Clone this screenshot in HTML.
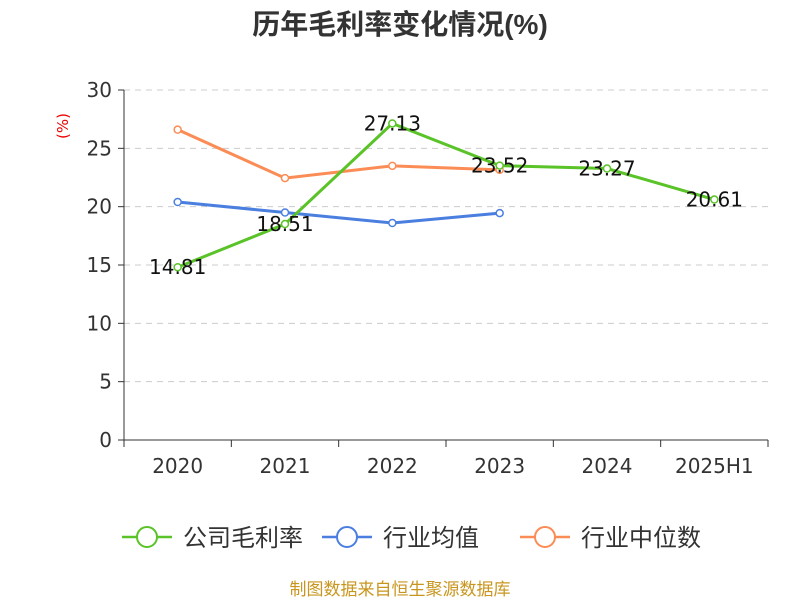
<!DOCTYPE html>
<html><head><meta charset="utf-8"><style>
body{margin:0;background:#fff;font-family:"DejaVu Sans","Noto Sans CJK SC",sans-serif;}
</style></head><body>
<svg id="c" width="800" height="600" xmlns="http://www.w3.org/2000/svg" font-family="DejaVu Sans, Noto Sans CJK SC, sans-serif">
<text x="400" y="34" text-anchor="middle" font-size="28" font-weight="bold" fill="#333" font-family="Liberation Sans, Noto Sans CJK SC, sans-serif">历年毛利率变化情况(%)</text>
<text x="68" y="126" text-anchor="middle" font-size="15" fill="#e00" transform="rotate(-90 68 126)">(%)</text>
<g id="grid"></g><g id="axes"></g><g id="series"></g><g id="legend"></g>
<text x="400" y="595" text-anchor="middle" font-size="17" fill="#c8961e" font-family="Liberation Sans, Noto Sans CJK SC, sans-serif">制图数据来自恒生聚源数据库</text>
</svg>
<script>
const categories=["2020","2021","2022","2023","2024","2025H1"];
const company=[14.81,18.51,27.13,23.52,23.27,20.61];
const industryAvg=[20.4,19.5,18.6,19.45,null,null];
const industryMedian=[26.6,22.45,23.5,23.15,null,null];
const yTicks=[0,5,10,15,20,25,30];
const NS="http://www.w3.org/2000/svg";
const x0=124,x1=768,y0=440,y1=90,yMax=30;
const bw=(x1-x0)/categories.length;
const xs=i=>x0+bw*(i+0.5);
const ys=v=>y0-(v/yMax)*(y0-y1);
function mk(tag,attrs,parent,text){const e=document.createElementNS(NS,tag);for(const k in attrs)e.setAttribute(k,attrs[k]);if(text!==undefined)e.textContent=text;document.getElementById(parent).appendChild(e);return e;}
yTicks.forEach(t=>{
 const y=ys(t);
 if(t>0){const g=mk('line',{x1:x0,x2:x1,y1:y,y2:y,stroke:'#ccc','stroke-dasharray':'6,5','stroke-width':1},'grid');
 }
 const tk=mk('line',{x1:x0-6,x2:x0,y1:y,y2:y,stroke:'#333'},'axes');
 
 const l=mk('text',{x:x0-12,y:y+7,'text-anchor':'end','font-size':20,fill:'#333'},'axes',t);
 
});
const ya=mk('line',{x1:x0,x2:x0,y1:y1,y2:y0,stroke:'#333'},'axes');

const xa=mk('line',{x1:x0,x2:x1,y1:y0,y2:y0,stroke:'#333'},'axes');

for(let i=0;i<=categories.length;i++){const tx=x0+bw*i;const t=mk('line',{x1:tx,x2:tx,y1:y0,y2:y0+7,stroke:'#333'},'axes');
}
categories.forEach((c,i)=>{const t=mk('text',{x:xs(i),y:473,'text-anchor':'middle','font-size':20,fill:'#333'},'axes',c);
});
function series(vals,color,name,labels){
 const pts=vals.map((v,i)=>v==null?null:[xs(i),ys(v)]).filter(p=>p);
 const pl=mk('polyline',{points:pts.map(p=>p.join(',')).join(' '),fill:'none',stroke:color,'stroke-width':3},'series');
 
 vals.forEach((v,i)=>{if(v==null)return;
  const c=mk('circle',{cx:xs(i),cy:ys(v),r:3.5,fill:'#fff',stroke:color,'stroke-width':1.5},'series');
  
  if(labels){const t=mk('text',{x:xs(i),y:ys(v)+7,'text-anchor':'middle','font-size':20,fill:'#111'},'series',v.toFixed(2));
  }
 });
}
series(industryAvg,'#4a7fe0','industry-avg',false);
series(industryMedian,'#fb8c55','industry-median',false);
series(company,'#5ac328','company',true);
const leg=[["公司毛利率","#5ac328",122],["行业均值","#4a7fe0",322],["行业中位数","#fb8c55",520]];
leg.forEach(([n,c,x])=>{
 const l=mk('line',{x1:x,x2:x+50,y1:537,y2:537,stroke:c,'stroke-width':2.5},'legend');
 
 const ci=mk('circle',{cx:x+25,cy:537,r:10,fill:'#fff',stroke:c,'stroke-width':2},'legend');
 
 const t=mk('text',{x:x+61,y:546,'font-size':24,fill:'#333','font-family':'Liberation Sans, Noto Sans CJK SC, sans-serif'},'legend',n);
 
});
</script>
</body></html>
